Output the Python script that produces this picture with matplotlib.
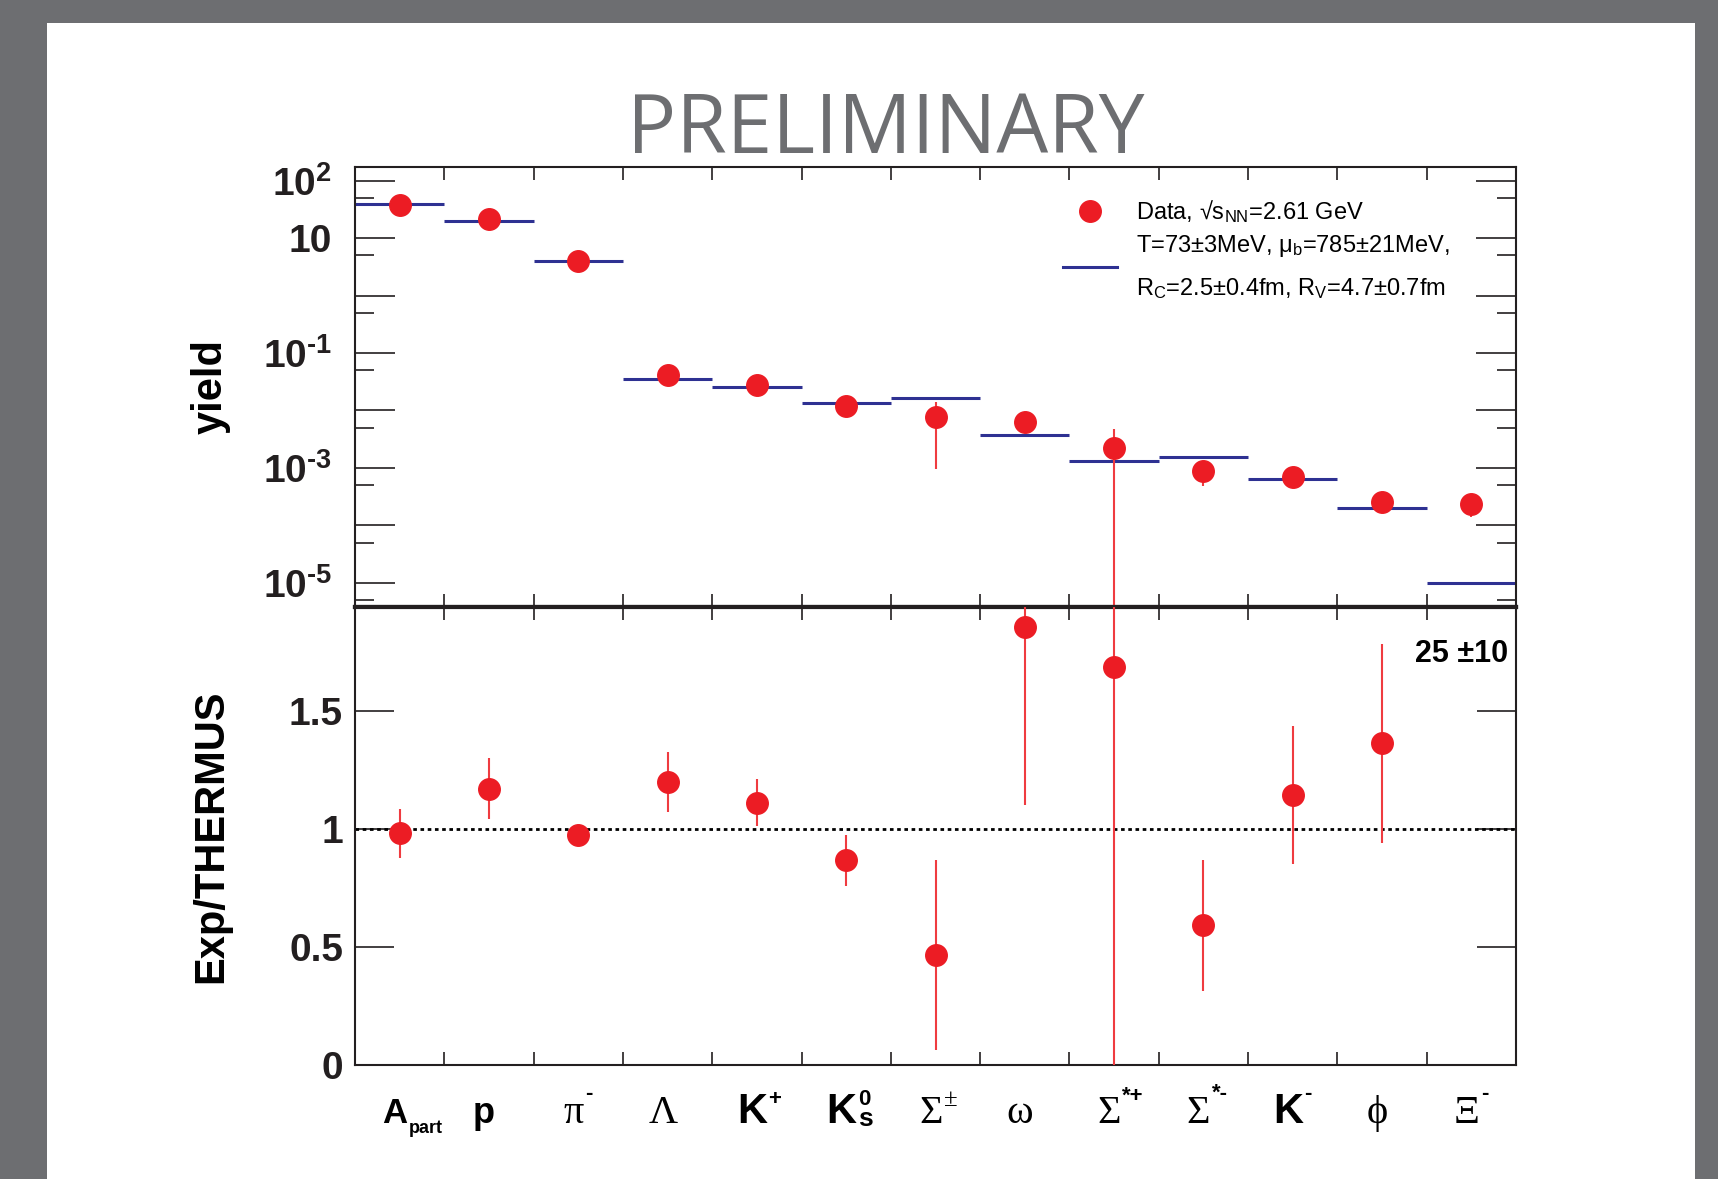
import matplotlib

matplotlib.use("Agg")
import matplotlib.pyplot as plt
import numpy as np
from matplotlib.font_manager import FontProperties
from matplotlib.lines import Line2D
from matplotlib.patches import Rectangle
from matplotlib.ticker import FixedLocator, FuncFormatter

# particle species: base symbol, superscript, subscript
particles = ["A", "p", "π", "Λ", "K", "K", "Σ", "ω", "Σ", "Σ", "K", "ϕ", "Ξ"]
particle_sup = ["", "", "-", "", "+", "0", "±", "", "*+", "*-", "-", "", "-"]
particle_sub = ["part", "", "", "", "", "s", "", "", "", "", "", "", ""]

# measured yields with error band
yield_data = [37.9, 21.4, 4.03, 0.0419, 0.0282, 0.0117, 0.0076, 0.00635, 0.00219, 8.75e-4, 7.0e-4, 2.57e-4, 2.34e-4]
yield_lo = [34.0, 19.5, 3.9, 0.038, 0.0255, 0.0103, 9.5e-4, 6.0e-3, 1e-7, 4.8e-4, 6.4e-4, 2.3e-4, 1.38e-4]
yield_hi = [41.5, 23.5, 4.2, 0.046, 0.031, 0.0131, 0.0142, 6.7e-3, 4.69e-3, 9.6e-4, 7.6e-4, 2.85e-4, 2.5e-4]

# THERMUS fit yields
yield_model = [39.6, 19.6, 4.0, 0.0351, 0.0258, 0.0133, 0.0163, 0.00369, 0.00133, 0.00155, 6.45e-4, 1.97e-4, 9.9e-6]

# data / model ratio
ratio = [0.986, 1.172, 0.977, 1.200, 1.112, 0.870, 0.465, 1.856, 1.688, 0.595, 1.144, 1.367, 25.0]
ratio_lo = [0.879, 1.042, 0.950, 1.074, 1.014, 0.758, 0.065, 1.102, -0.5, 0.316, 0.851, 0.940, 15.0]
ratio_hi = [1.088, 1.302, 1.005, 1.326, 1.214, 0.977, 0.870, 2.500, 3.0, 0.870, 1.437, 1.786, 35.0]

legend_data = "Data, √s$_{NN}$=2.61 GeV"
legend_fit = "T=73±3MeV, μ$_{b}$=785±21MeV,\nR$_{C}$=2.5±0.4fm, R$_{V}$=4.7±0.7fm"

RED = "#ec1c24"
RED_ERR = "#ef3b40"
BLUE = "#2e3192"
FRAME = "#231f20"
GRAY = "#6d6e71"
SANS = ["Liberation Sans", "DejaVu Sans"]
SERIF = ["Liberation Serif", "DejaVu Serif"]

W, H, DPI = 1718, 1179, 100

plt.rcParams["font.family"] = SANS
plt.rcParams["font.weight"] = "bold"
plt.rcParams["mathtext.default"] = "regular"


def style_frame(ax):
    for side in ax.spines.values():
        side.set_linewidth(1.5)
        side.set_color(FRAME)
    ax.tick_params(which="both", direction="in", left=True, right=True, top=True, bottom=True,
                   colors=FRAME, width=1.2, labelbottom=False, labelsize=28)
    ax.tick_params(axis="x", which="major", length=9.5)


def draw_particle_labels(ax, fig):
    renderer = fig.canvas.get_renderer()
    to_pt = 72.0 / fig.dpi
    xform = ax.get_xaxis_transform()
    base_y = -41.8
    shift = -3.5
    sizes = {"A": 25, "p": 26, "K": 30}
    raise_pt = {"-": 17, "+": 13, "0": 13, "±": 12, "*+": 15, "*-": 17}
    drop_pt = {"part": 7, "s": 2}
    for i, (base, sup, sub) in enumerate(zip(particles, particle_sup, particle_sub)):
        xc = i + 0.5
        if base in sizes:
            fp = FontProperties(family=SANS, weight="bold", size=sizes[base])
        else:
            fp = FontProperties(family=SERIF, weight="normal", size=29)
        ax.annotate(base, xy=(xc, 0), xycoords=xform, xytext=(shift, base_y), textcoords="offset points",
                    ha="center", va="baseline", fontproperties=fp, annotation_clip=False)
        w = renderer.get_text_width_height_descent(base, fp, ismath=False)[0] * to_pt
        x_script = shift + w / 2 + 1.0
        if sup:
            if sup == "±":
                sp = FontProperties(family=SERIF, weight="normal", size=18)
            else:
                sp = FontProperties(family=SANS, weight="bold", size=16)
            ax.annotate(sup, xy=(xc, 0), xycoords=xform, xytext=(x_script, base_y + raise_pt[sup]),
                        textcoords="offset points", ha="left", va="baseline", fontproperties=sp,
                        annotation_clip=False)
        if sub:
            sp = FontProperties(family=SANS, weight="bold", size=13 if sub == "part" else 19)
            ax.annotate(sub, xy=(xc, 0), xycoords=xform, xytext=(x_script, base_y - drop_pt[sub]),
                        textcoords="offset points", ha="left", va="baseline", fontproperties=sp,
                        annotation_clip=False)


def yield_label(v, _pos):
    exp = int(round(np.log10(v)))
    if exp == 1:
        return "10"
    if exp in (2, -1, -3, -5):
        # short hyphen in the exponent instead of the wide minus sign
        return "$10^{%s}$" % str(exp).replace("-", "\u00ad")
    return ""


def main():
    fig = plt.figure(figsize=(W / DPI, H / DPI), dpi=DPI)
    fig.patch.set_facecolor(GRAY)
    fig.add_artist(Rectangle((47 / W, 0), (1695 - 47) / W, 1 - 23 / H, transform=fig.transFigure,
                             facecolor="white", edgecolor="none", zorder=-1))

    left, right = 355 / W, 1516 / W
    y_top, y_mid, y_bot = 1 - 167 / H, 1 - 606.7 / H, 1 - 1065 / H
    ax = fig.add_axes([left, y_mid, right - left, y_top - y_mid])
    ax2 = fig.add_axes([left, y_bot, right - left, y_mid - y_bot])

    edges = np.arange(len(particles) + 1)
    centers = edges[:-1] + 0.5
    data = np.array(yield_data)
    ratio_arr = np.array(ratio)

    # upper panel: yields
    ax.hlines(yield_model, edges[:-1], edges[1:], colors=BLUE, linewidth=2.2, zorder=2)
    ax.errorbar(centers, data, yerr=[data - np.array(yield_lo), np.array(yield_hi) - data], fmt="o",
                color=RED, ecolor=RED_ERR, ms=15.5, elinewidth=1.5, capsize=0, zorder=3)
    ax.set_yscale("log")
    ax.set_xlim(0, len(particles))
    ax.set_ylim(3.82e-6, 173)
    ax.xaxis.set_major_locator(FixedLocator(edges[1:-1]))
    ax.yaxis.set_major_locator(FixedLocator(10.0 ** np.arange(-5, 3)))
    ax.yaxis.set_minor_locator(FixedLocator(5 * 10.0 ** np.arange(-6, 2)))
    ax.yaxis.set_major_formatter(FuncFormatter(yield_label))
    ax.yaxis.set_minor_formatter(FuncFormatter(lambda v, p: ""))
    style_frame(ax)
    ax.tick_params(axis="y", which="major", length=29, pad=16.5)
    ax.tick_params(axis="y", which="minor", length=14)
    ax.spines["bottom"].set_linewidth(3)

    handles = [Line2D([], [], ls="none", marker="o", ms=15.5, color=RED),
               Line2D([], [], color=BLUE, lw=2.2)]
    leg = ax.legend(handles, [legend_data, legend_fit], loc="upper left", bbox_to_anchor=(0.6098, 0.93),
                    frameon=False, prop=FontProperties(family=SANS, weight="normal", size=17),
                    handlelength=2.3, handletextpad=0.8, labelspacing=0.35, borderpad=0, borderaxespad=0,
                    numpoints=1)
    for t in leg.get_texts():
        t.set_linespacing(1.9)

    # lower panel: ratio to the fit
    ax2.axhline(1.0, color="black", linestyle=(0, (1.3, 1.3)), linewidth=2, zorder=2)
    ax2.errorbar(centers, ratio_arr, yerr=[ratio_arr - np.array(ratio_lo), np.array(ratio_hi) - ratio_arr],
                 fmt="o", color=RED, ecolor=RED_ERR, ms=15.5, elinewidth=1.5, capsize=0, zorder=3)
    ax2.set_xlim(0, len(particles))
    ax2.set_ylim(0, 1.944)
    ax2.xaxis.set_major_locator(FixedLocator(edges[1:-1]))
    ax2.yaxis.set_major_locator(FixedLocator([0, 0.5, 1, 1.5]))
    ax2.yaxis.set_major_formatter(FuncFormatter(lambda v, p: f"{v:g}"))
    style_frame(ax2)
    ax2.tick_params(axis="y", which="major", length=28, pad=8.6)
    ax2.spines["top"].set_linewidth(3)
    ax2.text(0.9929, 0.880, f"{ratio[-1]:.0f} ±{ratio_hi[-1] - ratio[-1]:.0f}", transform=ax2.transAxes,
             ha="right", va="baseline", fontsize=22, fontweight="bold")

    for a, label in ((ax, "yield"), (ax2, "Exp/THERMUS")):
        a.text((222 - 355) / 1161, 0.5, label, transform=a.transAxes, rotation=90, rotation_mode="anchor",
               ha="center", va="baseline", fontsize=30, fontweight="bold")

    draw_particle_labels(ax2, fig)

    fig.text(886 / W, 1 - 153 / H, "PRELIMINARY", ha="center", va="baseline", fontsize=59,
             family=["Open Sans", "DejaVu Sans"], fontweight="normal", color=GRAY)

    fig.savefig("out.png", dpi=DPI)
    plt.close(fig)


if __name__ == "__main__":
    main()
